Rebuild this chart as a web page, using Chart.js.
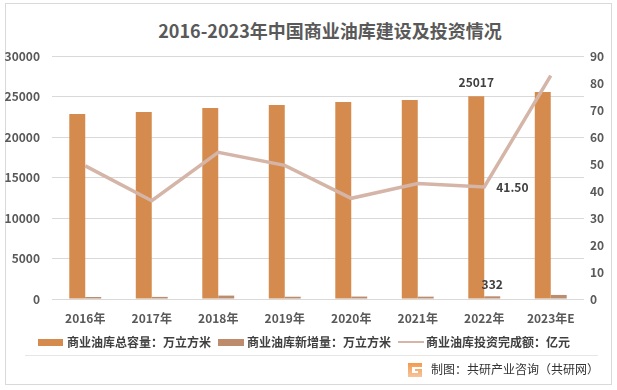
<!DOCTYPE html>
<html>
<head>
<meta charset="utf-8">
<script src="https://cdn.jsdelivr.net/npm/chart.js@4"></script>
<style>
  body { margin: 0; background: #fff; }
  #wrap { position: relative; width: 617px; height: 390px; font-family: "Noto Sans CJK SC", "Noto Sans", sans-serif; }
  #frame { position: absolute; left: 5px; top: 3px; width: 605px; height: 380px; border: 1px solid #d9d9d9; }
  #plot { position: absolute; left: 0; top: 0; width: 617px; height: 390px; }
  #title { position: absolute; left: 0; width: 660px; top: 17px; text-align: center; font-size: 18px; font-weight: bold; color: #595959; line-height: 26px; }
  .lg { position: absolute; font-size: 12px; font-weight: bold; color: #404040; line-height: 16px; top: 334px; white-space: nowrap; }
  .sw { position: absolute; }
  #sep { position: absolute; left: 25px; top: 355px; width: 573px; height: 1px; background: #e6e6e6; }
  #foot { position: absolute; left: 431px; top: 361px; font-size: 12px; color: #333; line-height: 16px; white-space: nowrap; }
  #logo { position: absolute; left: 408px; top: 363px; }
</style>
</head>
<body>
<div id="wrap">
  <div id="frame"></div>
  <div id="title">2016-2023年中国商业油库建设及投资情况</div>
  <div id="plot"><canvas id="chart"></canvas></div>

  <div class="sw" style="left:38px;top:339px;width:25px;height:7px;background:#D58B4D"></div>
  <div class="lg" style="left:67px">商业油库总容量：万立方米</div>
  <div class="sw" style="left:218px;top:339px;width:26px;height:7px;background:#BC8C6C"></div>
  <div class="lg" style="left:247px">商业油库新增量：万立方米</div>
  <div class="sw" style="left:398px;top:341px;width:26px;height:2px;background:#D4B5A8"></div>
  <div class="lg" style="left:426px">商业油库投资完成额：亿元</div>

  <div id="sep"></div>
  <svg id="logo" width="14" height="14" viewBox="0 0 14 14">
    <defs>
      <linearGradient id="lg1" x1="0" y1="0" x2="0" y2="1">
        <stop offset="0" stop-color="#f39a4e"/>
        <stop offset="1" stop-color="#f6c49c"/>
      </linearGradient>
    </defs>
    <path d="M0 0H14V4H4V10H10V8H7V6H14V14H0Z" fill="url(#lg1)"/>
  </svg>
  <div id="foot">制图：共研产业咨询（共研网）</div>
</div>

<script>
// categories
const years = ["2016年", "2017年", "2018年", "2019年", "2020年", "2021年", "2022年", "2023年E"];

// series (万立方米 / 亿元)
const totalCapacity = [22850, 23090, 23580, 23950, 24320, 24570, 25017, 25560];
const newCapacity = [250, 260, 420, 280, 300, 290, 332, 500];
const investment = [49.3, 36.4, 54.3, 49.5, 37.3, 42.8, 41.5, 82.7];

// axis ranges
const leftMax = 30000, leftStep = 5000;
const rightMax = 90, rightStep = 10;

// labelled index (2022年)
const labelIdx = 6;

const COLORS = {
  total: "#D58B4D",
  added: "#BC8C6C",
  invest: "#D4B5A8",
  grid: "#D9D9D9",
  tick: "#595959",
  label: "#404040"
};

const FONT = "'Noto Sans CJK SC', 'Noto Sans', sans-serif";

// draw the three value labels next to the 2022 marks
const valueLabels = {
  id: "valueLabels",
  afterDatasetsDraw(chart) {
    const ctx = chart.ctx;
    const bigBar = chart.getDatasetMeta(1).data[labelIdx];
    const smallBar = chart.getDatasetMeta(2).data[labelIdx];
    const pt = chart.getDatasetMeta(0).data[labelIdx];

    ctx.save();
    ctx.font = "bold 12px " + FONT;
    ctx.fillStyle = COLORS.label;
    ctx.textBaseline = "middle";

    ctx.textAlign = "center";
    ctx.fillText(String(totalCapacity[labelIdx]), bigBar.x, bigBar.y - 14);
    ctx.fillText(String(newCapacity[labelIdx]), smallBar.x, smallBar.y - 12);

    ctx.textAlign = "left";
    ctx.fillText(investment[labelIdx].toFixed(2), pt.x + 12, pt.y);
    ctx.restore();
  }
};

new Chart(document.getElementById("chart"), {
  type: "bar",
  data: {
    labels: years,
    datasets: [
      {
        type: "line",
        label: "商业油库投资完成额：亿元",
        data: investment,
        yAxisID: "y1",
        borderColor: COLORS.invest,
        borderWidth: 3.5,
        pointRadius: 0,
        tension: 0,
        order: 0
      },
      {
        label: "商业油库总容量：万立方米",
        data: totalCapacity,
        yAxisID: "y",
        backgroundColor: COLORS.total,
        categoryPercentage: 0.48,
        barPercentage: 1,
        order: 1
      },
      {
        label: "商业油库新增量：万立方米",
        data: newCapacity,
        yAxisID: "y",
        backgroundColor: COLORS.added,
        categoryPercentage: 0.48,
        barPercentage: 1,
        order: 1
      }
    ]
  },
  options: {
    responsive: true,
    maintainAspectRatio: false,
    animation: false,
    layout: {
      padding: { top: 56, left: 0, right: 0, bottom: 0 }
    },
    plugins: {
      legend: { display: false },
      title: { display: false },
      tooltip: { enabled: false }
    },
    scales: {
      x: {
        grid: { display: false },
        border: { display: false },
        ticks: {
          padding: 4,
          color: COLORS.tick,
          font: { family: FONT, size: 12, weight: "bold" },
          maxRotation: 0
        },
        afterFit(axis) { axis.height = 91; }
      },
      y: {
        position: "left",
        min: 0,
        max: leftMax,
        grid: { color: COLORS.grid, drawTicks: false },
        border: { display: false },
        ticks: {
          stepSize: leftStep,
          padding: 12,
          color: COLORS.tick,
          font: { family: FONT, size: 12, weight: "bold" },
          callback: v => String(v)
        },
        afterFit(axis) { axis.width = 52; }
      },
      y1: {
        position: "right",
        min: 0,
        max: rightMax,
        grid: { display: false, drawTicks: false },
        border: { display: false },
        ticks: {
          stepSize: rightStep,
          padding: 6,
          color: COLORS.tick,
          font: { family: FONT, size: 12, weight: "bold" },
          callback: v => String(v)
        },
        afterFit(axis) { axis.width = 33; }
      }
    }
  },
  plugins: [valueLabels]
});
</script>
</body>
</html>
